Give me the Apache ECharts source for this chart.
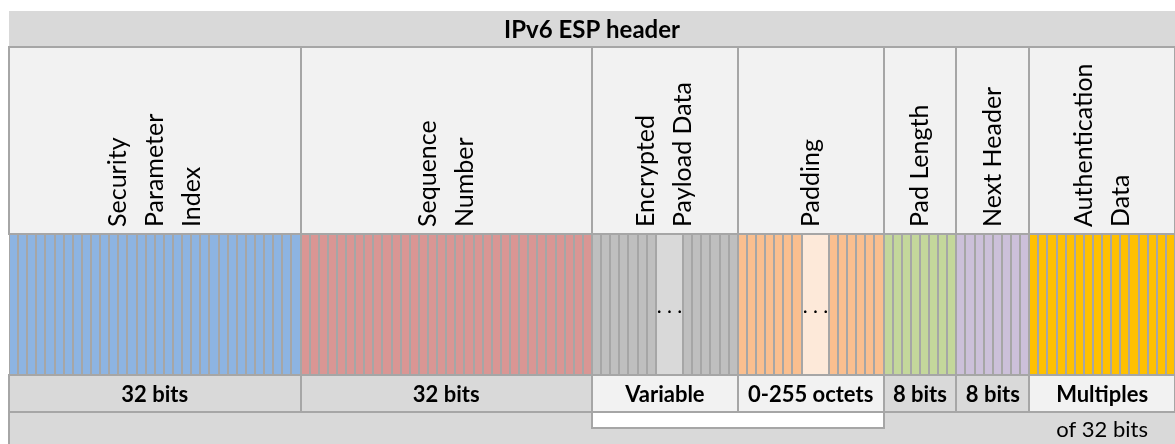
<!DOCTYPE html>
<html>
<head>
<meta charset="utf-8">
<title>IPv6 ESP header</title>
<script src="https://cdn.jsdelivr.net/npm/echarts@6/dist/echarts.min.js"></script>
<style>
html, body { margin: 0; padding: 0; background: #fff; }
#espHeader { width: 1175px; height: 444px; }
</style>
</head>
<body>
<div id="espHeader"></div>
<script>
// header title and field names (one entry per text line)
const headerTitle = 'IPv6 ESP header';
const fieldNames = [
    ['Security', 'Parameter', 'Index'],
    ['Sequence', 'Number'],
    ['Encrypted', 'Payload Data'],
    ['Padding'],
    ['Pad Length'],
    ['Next Header'],
    ['Authentication', 'Data']
];
// bits drawn before the "..." gap, gap width (in bits), bits drawn after it
const bitsBeforeGap = [32, 32, 7, 7, 8, 8, 16];
const gapWidth = [0, 0, 3, 3, 0, 0, 0];
const bitsAfterGap = [0, 0, 6, 6, 0, 0, 0];
// size row
const sizeLabels = ['32 bits', '32 bits', 'Variable', '0-255 octets', '8 bits', '8 bits', 'Multiples'];
const sizeNote = 'of 32 bits';

// styles
const LINE = '#a6a6a6';
const bitColors = ['#8db4e2', '#da9694', '#bfbfbf', '#fabf8f', '#c4d79b', '#ccc0da', '#ffc000'];
const gapColors = ['#d9d9d9', '#d9d9d9', '#d9d9d9', '#fde9d9', '#d9d9d9', '#d9d9d9', '#d9d9d9'];
const labelFills = ['#d9d9d9', '#d9d9d9', '#f2f2f2', '#f2f2f2', '#d9d9d9', '#d9d9d9', '#f2f2f2'];
const FONT = 'Lato, "Noto Sans", sans-serif';

// rows, in y-axis units (top, bottom)
const ROW = {
    title: [11, 47],
    head: [47, 234],
    bits: [234, 375],
    label: [375, 412],
    foot: [412, 444],
    box: 428
};

// field extents along the bit axis
const fieldStart = [];
const fieldEnd = [];
let acc = 0;
fieldNames.forEach((n, i) => {
    fieldStart.push(acc);
    acc += bitsBeforeGap[i] + gapWidth[i] + bitsAfterGap[i];
    fieldEnd.push(acc);
});
const totalBits = acc;

const fieldData = fieldNames.map((n, i) => [fieldStart[i], fieldEnd[i], i]);
const bitData = [];
fieldNames.forEach((n, i) => {
    let x = fieldStart[i];
    for (let b = 0; b < bitsBeforeGap[i]; b++, x++) bitData.push([x, x + 1, i, 0]);
    if (gapWidth[i] > 0) { bitData.push([x, x + gapWidth[i], i, 1]); x += gapWidth[i]; }
    for (let b = 0; b < bitsAfterGap[i]; b++, x++) bitData.push([x, x + 1, i, 0]);
});
const varFields = fieldNames.map((n, i) => i).filter(i => gapWidth[i] > 0);
const boxData = [[fieldStart[varFields[0]], fieldEnd[varFields[varFields.length - 1]]]];

function box(p0, p1) {
    const x0 = Math.round(p0[0]), x1 = Math.round(p1[0]);
    return { x: x0, y: p0[1], width: x1 - x0, height: p1[1] - p0[1] };
}

function renderTitle(params, api) {
    const p0 = api.coord([api.value(0), ROW.title[0]]);
    const p1 = api.coord([api.value(1), ROW.foot[1]]);
    const t1 = api.coord([api.value(1), ROW.title[1]]);
    const f0 = api.coord([api.value(0), ROW.foot[0]]);
    return {
        type: 'group',
        children: [
            { type: 'rect', shape: box(p0, t1), style: { fill: '#d9d9d9' } },
            { type: 'rect', shape: box(f0, p1), style: { fill: '#d9d9d9' } },
            { type: 'line', shape: { x1: f0[0], y1: f0[1], x2: f0[0], y2: p1[1] }, style: { stroke: LINE, lineWidth: 2 } },
            {
                type: 'text', x: (p0[0] + t1[0]) / 2, y: (p0[1] + t1[1]) / 2 + 1,
                style: { text: headerTitle, fontFamily: FONT, fontSize: 24, fontWeight: 'bold', fill: '#000', align: 'center', verticalAlign: 'middle' }
            }
        ]
    };
}

function renderHead(params, api) {
    const i = api.value(2);
    const p0 = api.coord([api.value(0), ROW.head[0]]);
    const p1 = api.coord([api.value(1), ROW.head[1]]);
    return {
        type: 'group',
        children: [
            { type: 'rect', shape: box(p0, p1), style: { fill: '#f2f2f2', stroke: LINE, lineWidth: 2 } },
            {
                type: 'text', x: (p0[0] + p1[0]) / 2, y: p1[1] - 7, rotation: Math.PI / 2,
                style: { text: fieldNames[i].join('\n'), fontFamily: FONT, fontSize: 25, lineHeight: 37, fill: '#000', align: 'left', verticalAlign: 'middle' }
            }
        ]
    };
}

function renderBit(params, api) {
    const i = api.value(2);
    const gap = api.value(3) === 1;
    const p0 = api.coord([api.value(0), ROW.bits[0]]);
    const p1 = api.coord([api.value(1), ROW.bits[1]]);
    const x0 = Math.round(p0[0]), x1 = Math.round(p1[0]);
    const children = [
        { type: 'rect', shape: { x: x0, y: p0[1] - 1, width: x1 - x0, height: p1[1] - p0[1] + 2 }, style: { fill: LINE } },
        { type: 'rect', shape: { x: x0 + 1, y: p0[1] + 1, width: x1 - x0 - 2, height: p1[1] - p0[1] - 2 }, style: { fill: gap ? gapColors[i] : bitColors[i] } }
    ];
    if (gap) {
        children.push({
            type: 'text', x: (x0 + x1) / 2, y: (p0[1] + p1[1]) / 2 + 12,
            style: { text: '. . .', fontFamily: FONT, fontSize: 21, fill: '#000', align: 'center', verticalAlign: 'bottom' }
        });
    }
    return { type: 'group', children: children };
}

function renderLabel(params, api) {
    const i = api.value(2);
    const p0 = api.coord([api.value(0), ROW.label[0]]);
    const p1 = api.coord([api.value(1), ROW.label[1]]);
    const children = [
        { type: 'rect', shape: box(p0, p1), style: { fill: labelFills[i], stroke: LINE, lineWidth: 2 } },
        {
            type: 'text', x: (p0[0] + p1[0]) / 2, y: (p0[1] + p1[1]) / 2 + 1,
            style: { text: sizeLabels[i], fontFamily: FONT, fontSize: 22, fontWeight: 'bold', fill: '#000', align: 'center', verticalAlign: 'middle' }
        }
    ];
    if (i === fieldNames.length - 1) {
        const f1 = api.coord([api.value(1), ROW.foot[1]]);
        children.push({
            type: 'text', x: (p0[0] + p1[0]) / 2, y: (p1[1] + f1[1]) / 2 + 2,
            style: { text: sizeNote, fontFamily: FONT, fontSize: 22, fill: '#000', align: 'center', verticalAlign: 'middle' }
        });
    }
    return { type: 'group', children: children };
}

function renderBox(params, api) {
    const p0 = api.coord([api.value(0), ROW.foot[0]]);
    const p1 = api.coord([api.value(1), ROW.box]);
    return { type: 'rect', shape: box(p0, p1), style: { fill: '#fff', stroke: LINE, lineWidth: 2 } };
}

const chart = echarts.init(document.getElementById('espHeader'));
chart.setOption({
    animation: false,
    grid: { left: 9, top: 0, width: 1168, height: 444 },
    xAxis: { type: 'value', min: 0, max: totalBits, show: false },
    yAxis: { type: 'value', min: 0, max: 444, inverse: true, show: false },
    series: [
        { type: 'custom', name: 'frame', renderItem: renderTitle, data: [[0, totalBits]], silent: true },
        { type: 'custom', name: 'fields', renderItem: renderHead, data: fieldData, silent: true },
        { type: 'custom', name: 'bits', renderItem: renderBit, data: bitData, silent: true },
        { type: 'custom', name: 'box', renderItem: renderBox, data: boxData, silent: true },
        { type: 'custom', name: 'sizes', renderItem: renderLabel, data: fieldData, silent: true }
    ]
});
window.addEventListener('resize', () => chart.resize());
</script>
</body>
</html>
